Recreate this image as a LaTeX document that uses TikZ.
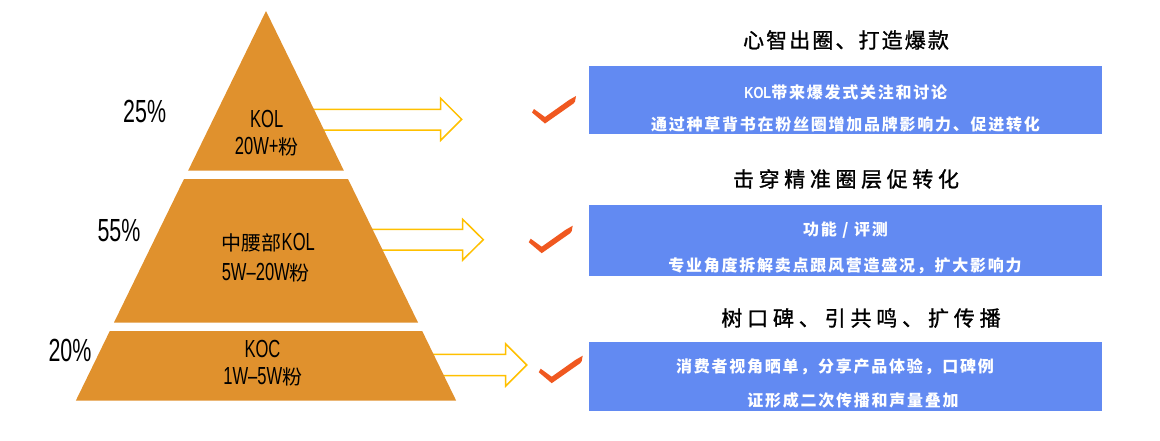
\documentclass[tikz,border=0pt]{standalone}
\usepackage{fontspec}
\setmainfont{Liberation Sans}
\newfontfamily\cjk{Noto Sans CJK SC}
\newfontfamily\narrowf{Liberation Sans}[FakeStretch=0.67]
\newfontfamily\boxlat{Liberation Sans}[FakeStretch=0.8]
\newfontfamily\titlea{Noto Sans CJK SC}[LetterSpace=10,FakeBold=1.2]
\newfontfamily\titleb{Noto Sans CJK SC}[LetterSpace=22,FakeBold=1.2]
\newfontfamily\titlec{Noto Sans CJK SC}[LetterSpace=23,FakeBold=1.2]
\newfontfamily\boxf{Noto Sans CJK SC}[LetterSpace=11]
\definecolor{pyr}{RGB}{224,145,45}
\definecolor{arrowc}{RGB}{255,192,0}
\definecolor{checkc}{RGB}{240,88,32}
\definecolor{boxc}{RGB}{98,138,242}
\tikzset{
  pyrfill/.style={fill=pyr},
  blockarrow/.style={draw=arrowc, line width=1.5pt, fill=white, line join=miter},
  pct/.style={font=\narrowf\fontsize{32}{34}\selectfont, text=black, inner sep=0pt},
  tiertext/.style={font=\fontsize{24.7}{28.5}\selectfont, align=center, inner sep=0pt},
  titletext/.style={text=black, inner sep=0pt},
  bluebox/.style={fill=boxc, draw=none},
  boxtext/.style={text=white, inner sep=0pt, font=\boxf\bfseries\fontsize{16}{18}\selectfont},
  checkpic/.pic={\fill[checkc] (0,1.5) -- (-13,-9.5) -- (-11,-13) -- (0,-5) -- (24,-22) -- (31,-26) -- (30,-20.5) -- (28.5,-18.5) -- cycle;}
}
\newcommand{\cn}[1]{{\cjk\fontsize{20}{24}\selectfont #1}}
\begin{document}
\begin{tikzpicture}[x=1pt,y=-1pt]
\useasboundingbox (0,0) rectangle (1160,440);
% block arrows (behind the pyramid)
\draw[blockarrow] (300,109.3) -- (440.7,109.3) -- (440.7,98.3) -- (461.7,119.3) -- (440.7,140.3) -- (440.7,130) -- (300,130) -- cycle;
\draw[blockarrow] (355,229.3) -- (462.7,229.3) -- (462.7,219.3) -- (483.3,239.7) -- (462.7,260) -- (462.7,250) -- (355,250) -- cycle;
\draw[blockarrow] (415,354.3) -- (505.7,354.3) -- (505.7,344) -- (526.7,365) -- (505.7,386) -- (505.7,375.7) -- (415,375.7) -- cycle;
% pyramid
\fill[pyrfill] (266,11) -- (343.9,170.7) -- (188.1,170.7) -- cycle;
\fill[pyrfill] (184,179) -- (348,179) -- (418,322.5) -- (114,322.5) -- cycle;
\fill[pyrfill] (109.8,331) -- (422.2,331) -- (456.1,400.5) -- (75.9,400.5) -- cycle;
% tier labels
\node[tiertext] (t1a) at (266.7,119) {\narrowf KOL};
\node[tiertext] (t1b) at (266.7,146.7) {\narrowf 20W+\cn{粉}};
\node[tiertext] (t2a) at (268.3,242.8) {\cn{中腰部}\narrowf KOL};
\node[tiertext] (t2b) at (265.8,272.5) {\narrowf 5W–20W\cn{粉}};
\node[tiertext] (t3a) at (262.5,348.8) {\narrowf KOC};
\node[tiertext] (t3b) at (262.8,376.7) {\narrowf 1W–5W\cn{粉}};
% percentages
\node[pct] (p1) at (144.7,111) {25\%};
\node[pct] (p2) at (119,231) {55\%};
\node[pct] (p3) at (70,350) {20\%};
% check marks
\pic at (545,122) {checkpic};
\pic at (541.7,251.7) {checkpic};
\pic at (551.7,381.7) {checkpic};
% titles
\node[titletext, font=\titlea\fontsize{21}{24}\selectfont] (h1) at (846,40) {心智出圈、打造爆款};
\node[titletext, font=\titleb\fontsize{21}{24}\selectfont] (h2) at (846,179) {击穿精准圈层促转化};
\node[titletext, font=\titlec\fontsize{21}{24}\selectfont] (h3) at (861,318) {树口碑、引共鸣、扩传播};
% blue boxes
\fill[bluebox] (588.6,66) rectangle (1102,133.7);
\fill[bluebox] (588.6,205) rectangle (1102,275.7);
\fill[bluebox] (588.6,342) rectangle (1102,410.7);
\node[boxtext] (b1a) at (845.7,92.4) {{\boxlat\bfseries KOL}带来爆发式关注和讨论};
\node[boxtext] (b1b) at (845.5,124) {通过种草背书在粉丝圈增加品牌影响力、促进转化};
\node[boxtext] (b2a) at (845.5,230.5) {功能 / 评测};
\node[boxtext] (b2b) at (845,265.5) {专业角度拆解卖点跟风营造盛况，扩大影响力};
\node[boxtext] (b3a) at (835,367) {消费者视角晒单，分享产品体验，口碑例};
\node[boxtext] (b3b) at (853,400) {证形成二次传播和声量叠加};
\end{tikzpicture}
\end{document}
